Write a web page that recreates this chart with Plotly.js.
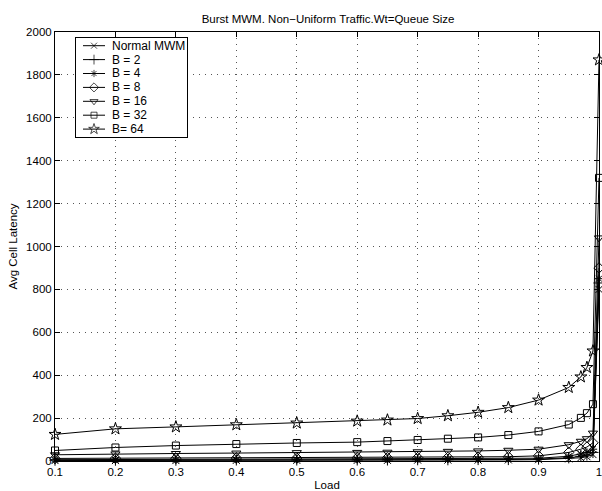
<!DOCTYPE html>
<html>
<head>
<meta charset="utf-8">
<script src="https://cdn.plot.ly/plotly-3.0.1.min.js"></script>
<style>html,body{margin:0;padding:0;background:#fff;}#chart{width:602px;height:491px;}</style>
</head>
<body>
<div id="chart"></div>
<script>
const load = [0.1,0.2,0.3,0.4,0.5,0.6,0.65,0.7,0.75,0.8,0.85,0.9,0.95,0.97,0.98,0.99,1.0];
const normalMWM = [2,2,2,3,3,3,3,4,4,4,5,6,10,15,20,30,800];
const b2  = [4,4,4,5,5,5,5,6,6,7,7,9,15,22,28,40,830];
const b4  = [6,7,7,8,8,8,9,9,10,10,11,13,22,32,40,55,850];
const b8  = [12,13,13,14,14,15,15,16,17,18,20,24,40,55,65,85,900];
const b16 = [29,33,35,37,39,40,41,43,45,47,50,55,76,92,104,130,1040];
const b32 = [49,63,72,79,84,88,93,98,104,110,121,138,170,201,223,265,1320];
const b64 = [124,150,159,169,177,186,191,198,211,227,249,284,343,392,436,513,1870];

const names = ["Normal MWM","B = 2","B = 4","B = 8","B = 16","B = 32","B= 64"];
const series = [normalMWM,b2,b4,b8,b16,b32,b64];
const xTicks = [0.1,0.2,0.3,0.4,0.5,0.6,0.7,0.8,0.9,1.0];
const xTickText = ['0.1','0.2','0.3','0.4','0.5','0.6','0.7','0.8','0.9','1'];
const symbols = ["x-thin-open","cross-thin-open","asterisk-open","diamond-open","triangle-down-open","square-open","star-open"];
const sizes = [7,8,7,8,8,7,9];

const FAM = '"Liberation Sans", Arial, Helvetica, sans-serif';
const font = {family:FAM, size:11.5, color:'#000'};

const traces = series.map((ys,i)=>({
  x: load, y: ys, name: names[i], type:'scatter', mode:'lines+markers',
  showlegend:false, cliponaxis:false,
  line:{color:'#000', width:1},
  marker:{symbol:symbols[i], size:sizes[i], color:'#000', line:{color:'#000', width:1}}
}));

// custom legend drawn in an inset subplot (units: pixels inside the box)
const W = 111, H = 99, row0 = 7.7, rowStep = 13.9;
traces.push({
  x:[0,W,W,0,0], y:[0,0,H,H,0], xaxis:'x2', yaxis:'y2', type:'scatter', mode:'lines',
  fill:'toself', fillcolor:'#fff', line:{width:0, color:'rgba(0,0,0,0)'}, showlegend:false, hoverinfo:'skip'
});
const annotations = [];
names.forEach((nm,i)=>{
  const yc = row0 + rowStep*i;
  traces.push({
    x:[7,18,29], y:[yc,yc,yc], xaxis:'x2', yaxis:'y2', type:'scatter', mode:'lines+markers',
    showlegend:false, hoverinfo:'skip', cliponaxis:false,
    line:{color:'#000', width:1},
    marker:{symbol:symbols[i], size:[0,sizes[i]-1,0], color:'#000', line:{color:'#000', width:1}}
  });
  annotations.push({xref:'x2', yref:'y2', x:34, y:yc, text:nm, showarrow:false,
    xanchor:'left', yanchor:'middle', font:{family:FAM, size:12, color:'#000'}});
});

const lx0 = (76-55)/544, lx1 = (76+W-55)/544, ly1 = (461-38)/429, ly0 = (461-38-H)/429;

const gridStyle = {showgrid:true, gridcolor:'#555', griddash:'1px,5px', gridwidth:1, zeroline:false};
const layout = {
  width:602, height:491,
  margin:{l:55, r:3, t:32, b:30},
  paper_bgcolor:'#fff', plot_bgcolor:'#fff',
  font: font,
  showlegend:false,
  annotations: annotations,
  title:{text:'Burst MWM. Non\u2212Uniform Traffic.Wt=Queue Size', font:{family:FAM, size:11.5, color:'#000'},
    x:0.545, xanchor:'center', y:1-19/491, yanchor:'middle'},
  xaxis:Object.assign({
    domain:[0,1], anchor:'y',
    range:[0.1,1.0], tickvals:xTicks, ticktext:xTickText,
    ticks:'inside', ticklen:5, tickcolor:'#000', showline:true, linecolor:'#000', linewidth:1, mirror:'ticks',
    ticklabeloverflow:'allow', tickfont:font,
    title:{text:'Load', font:font, standoff:4}
  }, gridStyle),
  yaxis:Object.assign({
    domain:[0,1], anchor:'x',
    range:[0,2000], dtick:200, tick0:0,
    ticks:'inside', ticklen:5, tickcolor:'#000', showline:true, linecolor:'#000', linewidth:1, mirror:'ticks',
    tickfont:font,
    title:{text:'Avg Cell Latency', font:font, standoff:6}
  }, gridStyle),
  xaxis2:{domain:[lx0,lx1], anchor:'y2', range:[0,W], showline:true, mirror:true,
    linecolor:'#000', linewidth:1, showgrid:false, zeroline:false, showticklabels:false, ticks:''},
  yaxis2:{domain:[ly0,ly1], anchor:'x2', range:[H,0], showline:true, mirror:true,
    linecolor:'#000', linewidth:1, showgrid:false, zeroline:false, showticklabels:false, ticks:''}
};
Plotly.newPlot('chart', traces, layout, {displayModeBar:false, staticPlot:true});
</script>
</body>
</html>
